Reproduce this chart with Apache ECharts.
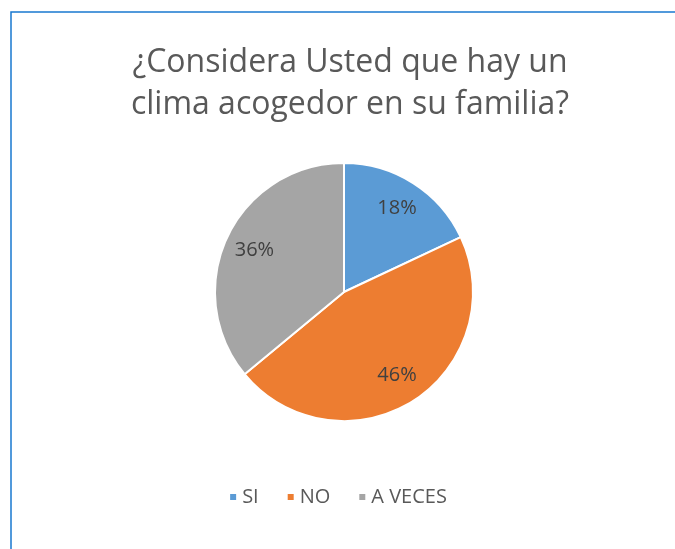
<!DOCTYPE html>
<html>
<head>
<meta charset="utf-8">
<script src="https://cdn.jsdelivr.net/npm/echarts@6/dist/echarts.min.js"></script>
<style>
  html, body { margin: 0; padding: 0; background: #fff; }
  #view { width: 675px; height: 549px; }
</style>
</head>
<body>
<div id="view"></div>
<script>
var categories = ['SI', 'NO', 'A VECES'];
var values = [18, 46, 36];
var colors = ['#5B9BD5', '#ED7D31', '#A5A5A5'];

var pieData = categories.map(function (name, i) {
    return { name: name, value: values[i], itemStyle: { color: colors[i] } };
});

var myChart = echarts.init(document.getElementById('view'));
var option = {
    backgroundColor: '#fff',
    animation: false,
    title: {
        text: '¿Considera Usted que hay un\nclima acogedor en su familia?',
        left: 350,
        textAlign: 'center',
        top: 42,
        padding: 0,
        textStyle: {
            color: '#595959',
            fontFamily: 'Open Sans',
            fontWeight: 'normal',
            fontSize: 32,
            lineHeight: 42
        }
    },
    legend: {
        top: 482,
        left: 'center',
        icon: 'rect',
        itemWidth: 8,
        itemHeight: 8,
        itemGap: 27,
        selectedMode: false,
        textStyle: { color: '#595959', fontSize: 20, fontFamily: 'Open Sans' },
        data: categories
    },
    graphic: [{
        type: 'rect',
        shape: { x: 11, y: 12, width: 720, height: 600 },
        style: { fill: 'none', stroke: '#1878D0', lineWidth: 1.5 },
        silent: true
    }],
    series: [{
        name: 'clima',
        type: 'pie',
        center: [344, 292],
        radius: [0, 129],
        startAngle: 90,
        clockwise: true,
        label: { show: false },
        labelLine: { show: false },
        itemStyle: { borderColor: '#fff', borderWidth: 2 },
        emphasis: { disabled: true },
        data: pieData
    }, {
        name: 'labels',
        type: 'pie',
        center: [344, 292],
        radius: [62, 130],
        startAngle: 90,
        clockwise: true,
        silent: true,
        legendHoverLink: false,
        itemStyle: { color: 'transparent', borderWidth: 0 },
        label: {
            show: true,
            position: 'inside',
            formatter: '{c}%',
            color: '#404040',
            fontSize: 20,
            fontFamily: 'Open Sans'
        },
        labelLine: { show: false },
        emphasis: { disabled: true },
        data: categories.map(function (name, i) {
            return { name: name + ' ', value: values[i] };
        })
    }]
};
myChart.setOption(option);
</script>
</body>
</html>
